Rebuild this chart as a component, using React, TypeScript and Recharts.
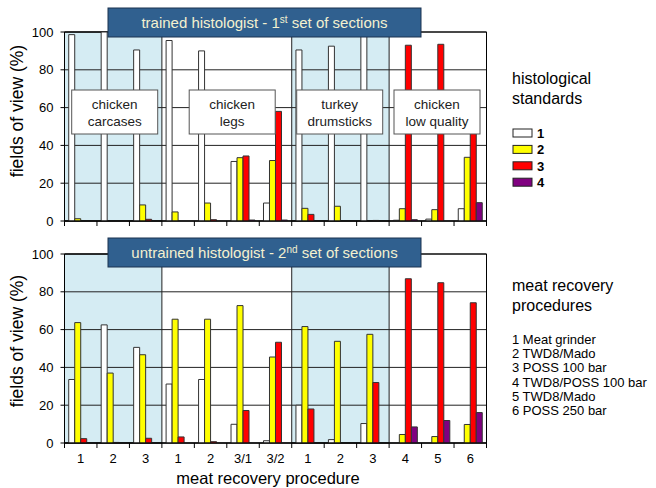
import React from 'react';
import { BarChart, Bar, XAxis, YAxis, CartesianGrid, ReferenceArea } from 'recharts';

// ---------- data ----------
const categories = ['cc1', 'cc2', 'cc3', 'cl1', 'cl2', 'cl31', 'cl32', 'td1', 'td2', 'td3', 'lq4', 'lq5', 'lq6'];
const tickLabels = ['1', '2', '3', '1', '2', '3/1', '3/2', '1', '2', '3', '4', '5', '6'];
const yTicks = [0, 20, 40, 60, 80, 100];

// trained histologist - 1st set of sections
const trainedStd1 = [98.6, 100, 90.5, 95.5, 90, 31.5, 9.5, 90.5, 92.5, 100, 0.4, 1, 6.5];
const trainedStd2 = [1.2, 0, 8.5, 4.8, 9.5, 33.5, 32, 6.7, 7.8, 0, 6.5, 6, 33.7];
const trainedStd3 = [0, 0, 0.9, 0, 0.7, 34.4, 58, 3.5, 0, 0.3, 93, 93.5, 55];
const trainedStd4 = [0, 0, 0, 0, 0, 0.5, 0.5, 0, 0, 0, 0.7, 0, 9.7];

// untrained histologist - 2nd set of sections
const untrainedStd1 = [33.6, 62.5, 50.6, 31.2, 33.6, 9.9, 1.2, 20, 1.8, 10.3, 0, 0, 0];
const untrainedStd2 = [63.7, 37, 46.7, 65.5, 65.5, 72.7, 45.5, 61.6, 53.8, 57.5, 4.5, 3.4, 9.8];
const untrainedStd3 = [2.3, 0.3, 2.5, 3.2, 0.7, 17.2, 53.3, 18, 0, 32, 86.9, 84.8, 74.2];
const untrainedStd4 = [0, 0, 0, 0, 0, 0, 0, 0, 0, 0, 8.5, 11.9, 16.1];

const seriesKeys = ['s1', 's2', 's3', 's4'];
const seriesNames = ['1', '2', '3', '4'];
const seriesColors = ['#ffffff', '#ffff00', '#ff0000', '#800080'];

const shadedSections: [string, string][] = [['cc1', 'cc3'], ['td1', 'td3']];
const sectionLabels = [
  { lines: ['chicken', 'carcases'], cx: 114.7 },
  { lines: ['chicken', 'legs'], cx: 232.2 },
  { lines: ['turkey', 'drumsticks'], cx: 339.7 },
  { lines: ['chicken', 'low quality'], cx: 437 },
];
const procedureLegend = [
  '1 Meat grinder',
  '2 TWD8/Mado',
  '3 POSS 100 bar',
  '4 TWD8/POSS 100 bar',
  '5 TWD8/Mado',
  '6 POSS 250 bar',
];

const buildRows = (a: number[], b: number[], c: number[], d: number[]) =>
  categories.map((cat, i) => ({ cat, s1: a[i], s2: b[i], s3: c[i], s4: d[i] }));

const trainedRows = buildRows(trainedStd1, trainedStd2, trainedStd3, trainedStd4);
const untrainedRows = buildRows(untrainedStd1, untrainedStd2, untrainedStd3, untrainedStd4);

// ---------- layout ----------
const FONT = "'Liberation Sans', Arial, Helvetica, sans-serif";
const CHART_W = 500;
const Y_AXIS_W = 64.5;
const RIGHT_M = 13.5;
const PLOT_W = CHART_W - Y_AXIS_W - RIGHT_M;
const SHADE = '#d5ecf3';
const GRID = '#222222';

const BoundaryTick = (props: any) => {
  const { x, y, index, showLabel } = props;
  const bw = PLOT_W / categories.length;
  const last = index === categories.length - 1;
  return (
    <g>
      <line x1={x - bw / 2} x2={x - bw / 2} y1={y} y2={y + 5} stroke="#000" />
      {last && <line x1={x + bw / 2} x2={x + bw / 2} y1={y} y2={y + 5} stroke="#000" />}
      {showLabel && (
        <text x={x} y={y + 19.5} textAnchor="middle" fontSize={13} fill="#000" fontFamily={FONT}>
          {tickLabels[index]}
        </text>
      )}
    </g>
  );
};

const Panel = ({ rows, height, top, xAxisH, showLabels }: any) => (
  <BarChart
    width={CHART_W}
    height={height}
    data={rows}
    margin={{ top, right: RIGHT_M, left: 0, bottom: 0 }}
    barCategoryGap="13%"
    barGap={0}
    style={{ fontFamily: FONT }}
  >
    {shadedSections.map(([a, b]) => (
      <ReferenceArea
        key={a}
        x1={a}
        x2={b}
        fill={SHADE}
        fillOpacity={1}
        stroke={GRID}
        strokeWidth={1}
        ifOverflow="visible"
        zIndex={-150}
      />
    ))}
    <CartesianGrid vertical={false} stroke={GRID} strokeWidth={1} />
    <XAxis
      dataKey="cat"
      type="category"
      interval={0}
      height={xAxisH}
      tickSize={0}
      tickMargin={0}
      tickLine={false}
      axisLine={{ stroke: '#000' }}
      tick={<BoundaryTick showLabel={showLabels} />}
    />
    <YAxis
      type="number"
      domain={[0, 100]}
      ticks={yTicks}
      interval={0}
      width={Y_AXIS_W}
      tickSize={4}
      tickMargin={7}
      allowDataOverflow
      axisLine={{ stroke: '#000' }}
      tickLine={{ stroke: '#000' }}
      tick={{ fontSize: 13, fill: '#000', fontFamily: FONT }}
    />
    {seriesKeys.map((k, i) => (
      <Bar
        key={k}
        dataKey={k}
        name={seriesNames[i]}
        fill={seriesColors[i]}
        stroke="#333"
        strokeWidth={1}
        isAnimationActive={false}
      />
    ))}
    <ReferenceArea x1={categories[0]} x2={categories[categories.length - 1]} fill="none" stroke="#000" ifOverflow="visible" />
  </BarChart>
);

const TitleBox = ({ y, pre, sup, post }: any) => (
  <g>
    <rect x={108} y={y} width={313} height={29} fill="#30608f" stroke="#1b3350" strokeWidth={1} />
    <text x={264.5} y={y + 20} textAnchor="middle" fontSize={15} fill="#f4f1cf" fontFamily={FONT}>
      {pre}
      <tspan dy={-5} fontSize={10}>{sup}</tspan>
      <tspan dy={5}>{post}</tspan>
    </text>
  </g>
);

export default function App() {
  return (
    <div style={{ position: 'absolute', left: 0, top: 0, width: 656, height: 488, background: '#fff', fontFamily: FONT }}>
      <div style={{ position: 'absolute', left: 0, top: 0 }}>
        <Panel rows={trainedRows} height={230} top={32} xAxisH={9} showLabels={false} />
      </div>
      <div style={{ position: 'absolute', left: 0, top: 230 }}>
        <Panel rows={untrainedRows} height={258} top={24} xAxisH={45} showLabels={true} />
      </div>
      <svg width={656} height={488} style={{ position: 'absolute', left: 0, top: 0, pointerEvents: 'none' }} fontFamily={FONT}>
        {/* y axis titles */}
        <text transform="translate(23,111) rotate(-90)" textAnchor="middle" fontSize={17.5} fill="#000">fields of view (%)</text>
        <text transform="translate(23,341) rotate(-90)" textAnchor="middle" fontSize={17.5} fill="#000">fields of view (%)</text>

        <TitleBox y={8} pre="trained histologist - 1" sup="st" post=" set of sections" />
        <TitleBox y={238} pre="untrained histologist - 2" sup="nd" post=" set of sections" />

        {sectionLabels.map((s) => (
          <g key={s.lines.join(' ')}>
            <rect x={s.cx - 43} y={90} width={86} height={44} fill="#fff" stroke="#555" strokeWidth={1} />
            <text x={s.cx} y={109} textAnchor="middle" fontSize={13.5} fill="#222">{s.lines[0]}</text>
            <text x={s.cx} y={126} textAnchor="middle" fontSize={13.5} fill="#222">{s.lines[1]}</text>
          </g>
        ))}

        {/* histological standards legend */}
        <text x={512} y={84} fontSize={16} fill="#000">histological</text>
        <text x={512} y={104} fontSize={16} fill="#000">standards</text>
        {seriesNames.map((n, i) => (
          <g key={n}>
            <rect x={513} y={129 + i * 16.4} width={19} height={8} fill={seriesColors[i]} stroke="#222" strokeWidth={1} />
            <text x={537} y={138 + i * 16.4} fontSize={13} fontWeight="bold" fill="#000">{n}</text>
          </g>
        ))}

        {/* meat recovery procedures legend */}
        <text x={512} y={291} fontSize={16} fill="#000">meat recovery</text>
        <text x={512} y={311} fontSize={16} fill="#000">procedures</text>
        {procedureLegend.map((t, i) => (
          <text key={t} x={512} y={344 + i * 14.2} fontSize={13} fill="#000">{t}</text>
        ))}

        <text x={268} y={484} textAnchor="middle" fontSize={16.5} fill="#000">meat recovery procedure</text>
      </svg>
    </div>
  );
}
